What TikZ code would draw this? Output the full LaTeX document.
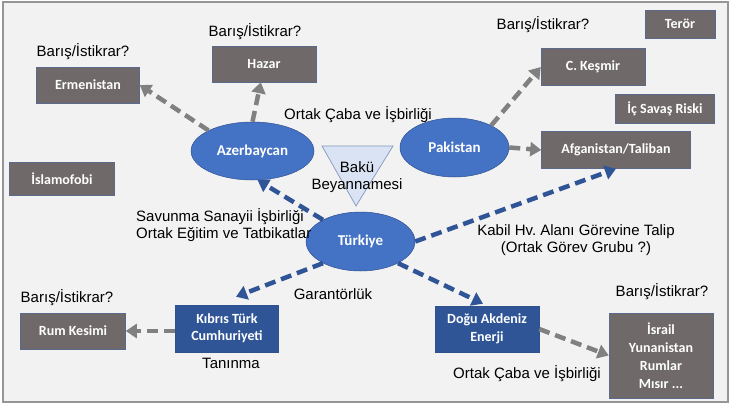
\documentclass[tikz,border=0pt]{standalone}
\usepackage{fontspec}
\setmainfont{Liberation Sans}
\newfontfamily\cfont{Carlito}
\usetikzlibrary{arrows.meta,shapes.geometric,calc}
\definecolor{bgcol}{RGB}{242,242,242}
\definecolor{framecol}{RGB}{150,150,150}
\definecolor{boxgray}{RGB}{111,106,105}
\definecolor{boxedge}{RGB}{90,105,140}
\definecolor{ellblue}{RGB}{68,114,196}
\definecolor{elledge}{RGB}{47,82,143}
\definecolor{darkblue}{RGB}{47,85,151}
\definecolor{arrgray}{RGB}{128,128,128}
\definecolor{arrblue}{RGB}{47,85,151}
\definecolor{trifill}{RGB}{218,227,243}
\definecolor{triedge}{RGB}{130,150,190}
\frenchspacing
\tikzset{
  gbox/.style={rectangle, fill=boxgray, draw=boxedge, line width=0.5pt, text=white,
    font=\cfont\bfseries\fontsize{14}{17}\selectfont, inner sep=0pt, align=center},
  bbox/.style={gbox, fill=darkblue, draw=elledge},
  ell/.style={ellipse, fill=ellblue, draw=elledge, line width=0.5pt, text=white,
    font=\cfont\bfseries\fontsize{15}{17}\selectfont, inner sep=0pt},
  lbl/.style={font=\fontsize{15}{16.5}\selectfont, text=black, inner sep=0pt, align=center},
  garrow/.style={draw=arrgray, line width=4.5pt, dash pattern=on 11pt off 6pt,
    -{Triangle[length=11pt,width=14pt]}},
  barrow/.style={draw=arrblue, line width=4.5pt, dash pattern=on 11pt off 6pt,
    -{Triangle[length=11pt,width=14pt]}}
}
\begin{document}
\begin{tikzpicture}[x=1pt,y=-1pt]
\useasboundingbox (0,0) rectangle (731,412);
\fill[white] (0,0) rectangle (731,412);
\draw[fill=bgcol, draw=framecol, line width=1.2pt] (3,2) rectangle (728,402);

% gray boxes
\node[gbox, minimum width=103pt, minimum height=36pt] (erm) at (88,85) {Ermenistan};
\node[gbox, minimum width=104pt, minimum height=36pt] (haz) at (264,64) {Hazar};
\node[gbox, minimum width=105pt, minimum height=33pt] (isl) at (62,179) {İslamofobi};
\node[gbox, minimum width=104pt, minimum height=37pt] (kes) at (593,67) {C. Keşmir};
\node[gbox, minimum width=70pt, minimum height=28pt] (ter) at (680,24) {Terör};
\node[gbox, minimum width=99pt, minimum height=29pt] (ics) at (665,109) {İç Savaş Riski};
\node[gbox, minimum width=149pt, minimum height=37pt] (afg) at (616,150) {Afganistan/Taliban};
\node[gbox, minimum width=105pt, minimum height=36pt] (rum) at (73,331) {Rum Kesimi};
\node[gbox, minimum width=104pt, minimum height=85pt, font=\cfont\bfseries\fontsize{14}{18}\selectfont] (isr) at (661,355.5) {İsrail\\Yunanistan\\Rumlar\\Mısır ...};

% blue boxes
\node[bbox, minimum width=103pt, minimum height=47pt] (kib) at (227,328.5) {Kıbrıs Türk\\Cumhuriyeti};
\node[bbox, minimum width=104pt, minimum height=46pt, font=\cfont\bfseries\fontsize{14}{18}\selectfont] (dak) at (487,329) {Doğu Akdeniz\\Enerji};

% ellipses
\node[ell, minimum width=123pt, minimum height=58pt] (az) at (252.5,151) {Azerbaycan};
\node[ell, minimum width=109pt, minimum height=59pt] (pak) at (454.5,147.5) {Pakistan};
\node[ell, minimum width=109pt, minimum height=59pt] (tur) at (360.5,241.5) {Türkiye};

% triangle
\coordinate (tl) at (322,146);
\coordinate (tr) at (393,146);
\coordinate (tb) at (356,206);
\draw[fill=trifill, draw=triedge, line width=0.7pt] (tl) -- (tr) -- (tb) -- cycle;
\node[lbl] (baku) at (357,177) {Bakü\\Beyannamesi};

% labels
\node[lbl] (b1) at (83,52) {Barış/İstikrar?};
\node[lbl] (b2) at (255,32) {Barış/İstikrar?};
\node[lbl] (b3) at (543,25) {Barış/İstikrar?};
\node[lbl] (b4) at (67,298) {Barış/İstikrar?};
\node[lbl] (b5) at (662,292) {Barış/İstikrar?};
\node[lbl] (ort1) at (358,115) {Ortak Çaba ve İşbirliği};
\node[lbl, anchor=west, align=left] (sav) at (136,225) {Savunma Sanayii İşbirliği\\Ortak Eğitim ve Tatbikatlar};
\node[lbl] (gar) at (333,294) {Garantörlük};
\node[lbl] (tan) at (231,363) {Tanınma};
\node[lbl, font=\fontsize{15}{17}\selectfont] (kab) at (576,240.5) {Kabil Hv. Alanı Görevine Talip\\(Ortak Görev Grubu ?)};
\node[lbl] (ort2) at (527,374) {Ortak Çaba ve İşbirliği};

% gray arrows
\draw[garrow] (az.155) -- (erm.east);
\draw[garrow] (az.north) -- (haz.-100);
\draw[garrow] (pak.31) -- (kes.west);
\draw[garrow] (pak.east) -- (afg.west);
\draw[garrow] (kib.west |- rum.east) -- (rum.east);
\draw[garrow] (dak.east) -- (isr.west);

% blue arrows
\draw[barrow] (tur.150) -- (az.-80);
\draw[barrow] (tur.east) -- (afg.south);
\draw[barrow] (tur.-150) -- ($(kib.north)+(9,-8)$);
\draw[barrow] (tur.-30) -- ($(dak.north)+(-4,-2)$);
\end{tikzpicture}
\end{document}
